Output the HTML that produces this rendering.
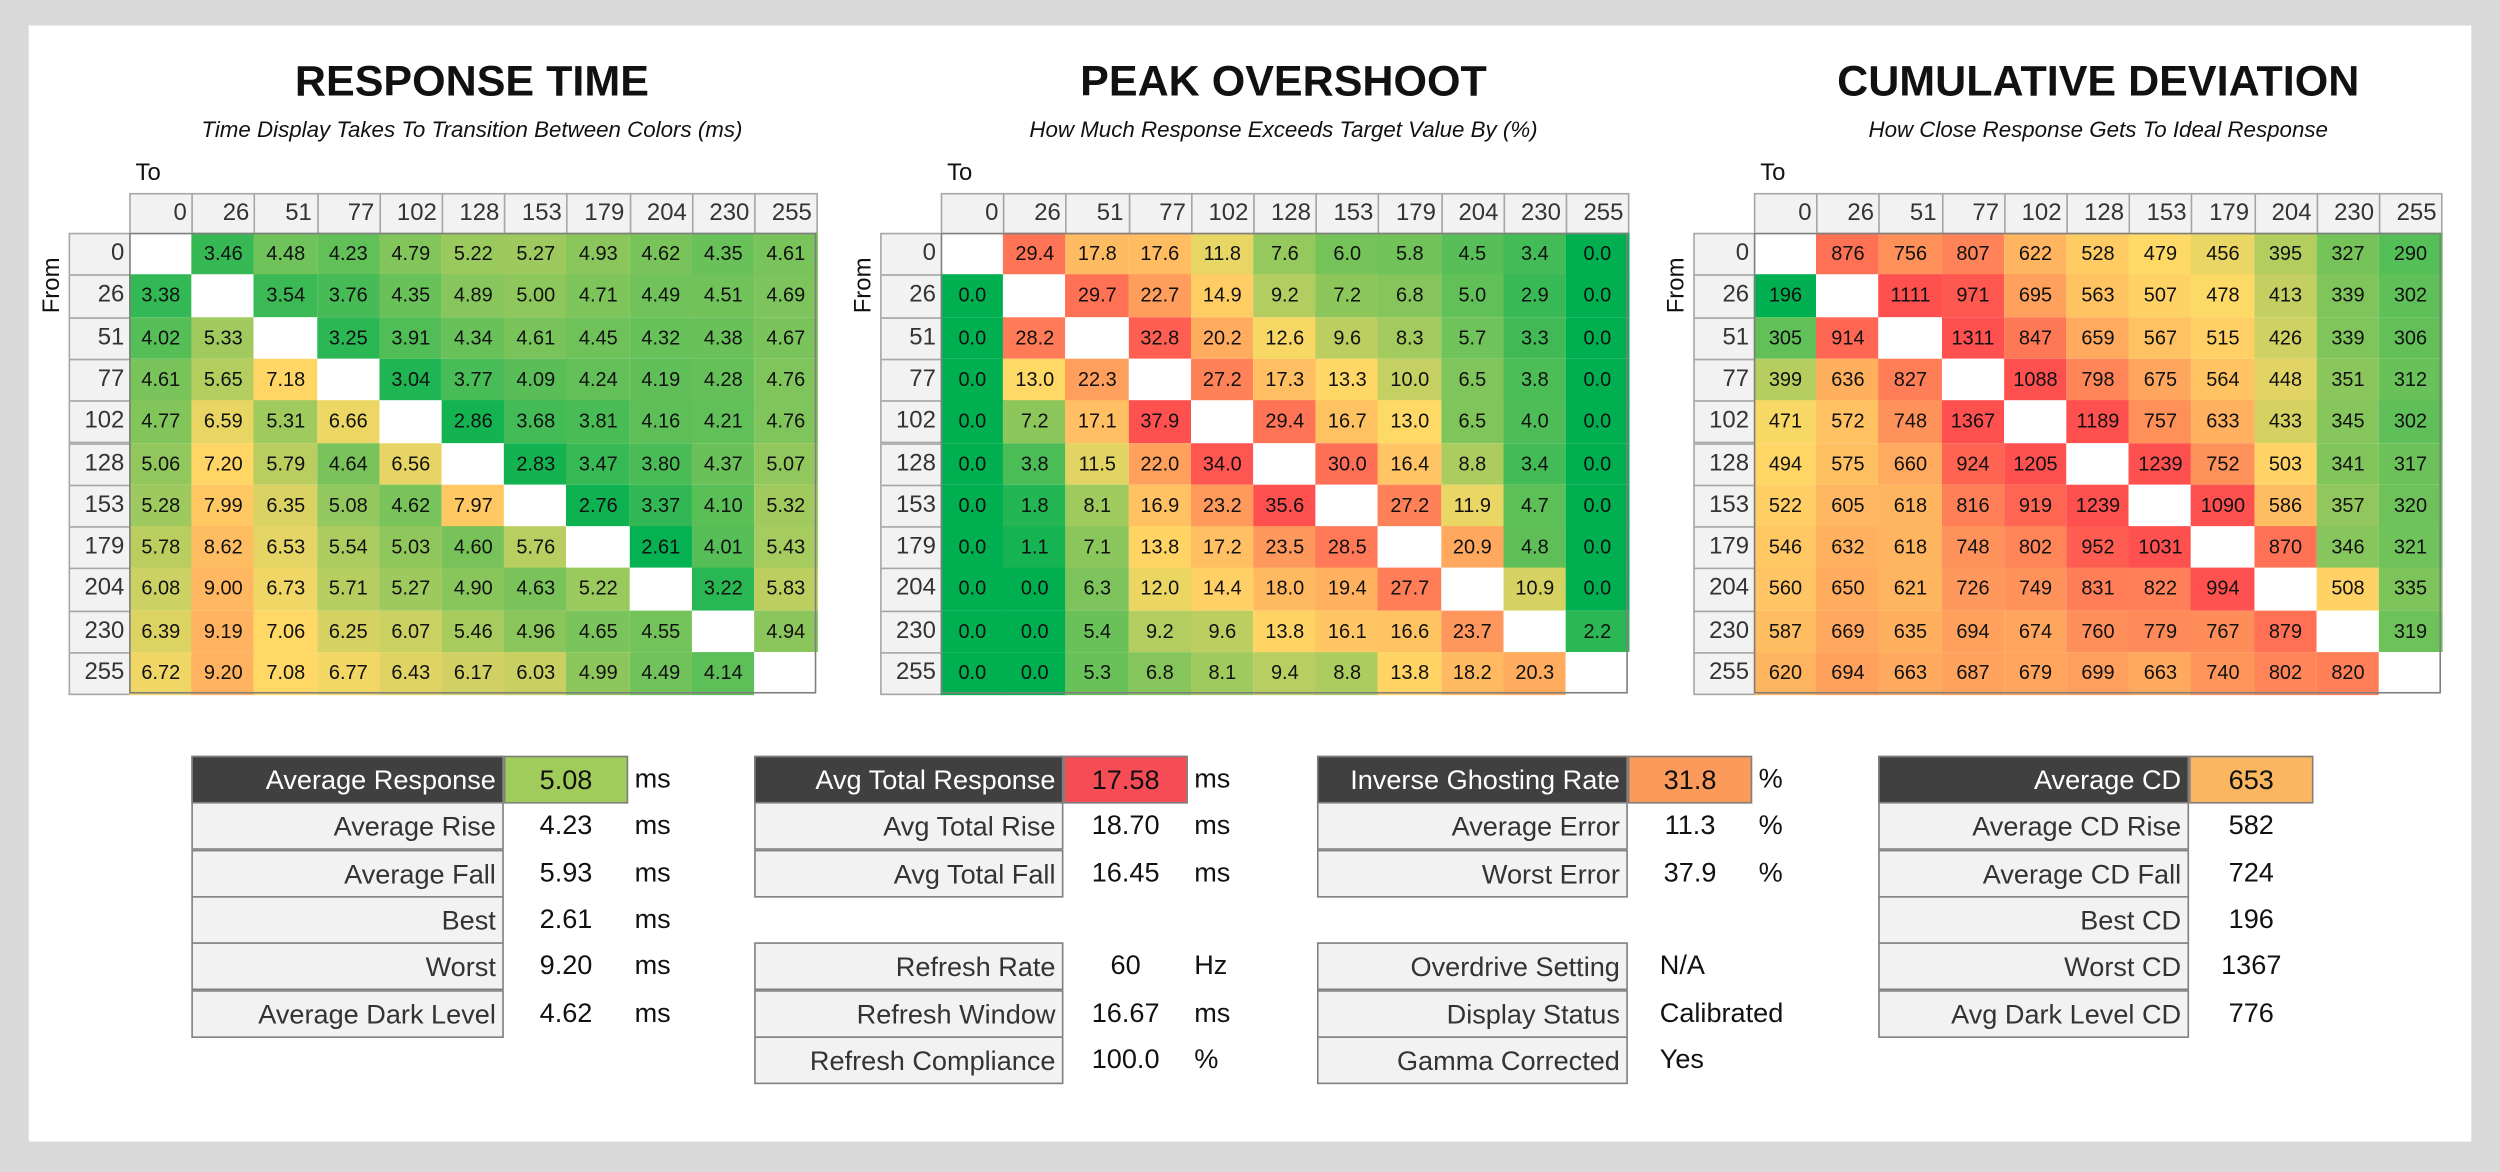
<!DOCTYPE html>
<html><head><meta charset="utf-8">
<style>
html,body{margin:0;padding:0;background:#d9d9d9;width:2500px;height:1172px;overflow:hidden}
#root{position:absolute;left:0;top:0;width:1568px;height:735px;transform:scale(1.59439);transform-origin:0 0;font-family:"Liberation Sans Narrow","Liberation Sans",sans-serif;color:#111}
#panel{position:absolute;left:18px;top:16px;width:1532px;height:700px;background:#fff}
.t{position:absolute;text-align:center;font-weight:bold;font-size:27px;width:500px}
.s{position:absolute;text-align:center;font-style:italic;font-size:14px;width:500px}
.abs{position:absolute;box-sizing:border-box}
.hc{background:#f2f2f2;border:1px solid #a6a6a6;font-size:15px;text-align:right;padding-right:3px;color:#333}
.cell{font-size:12.5px;text-align:center;border:0}
.lab{background:#f2f2f2;border:1px solid #7f7f7f;font-size:17px;text-align:right;padding-right:4px;color:#333;line-height:29px}
.lab.dark{background:#404040;color:#fff}
.val{font-size:17px;text-align:center;line-height:29px}
.unit{font-size:17px;line-height:29px}
</style></head><body>
<div id="root">
<div id="panel"></div>
<div class="t" style="left:46px;top:36px">RESPONSE TIME</div>
<div class="s" style="left:46px;top:73px">Time Display Takes To Transition Between Colors (ms)</div>
<div class="t" style="left:555px;top:36px">PEAK OVERSHOOT</div>
<div class="s" style="left:555px;top:73px">How Much Response Exceeds Target Value By (%)</div>
<div class="t" style="left:1066px;top:36px">CUMULATIVE DEVIATION</div>
<div class="s" style="left:1066px;top:73px">How Close Response Gets To Ideal Response</div>
<div id="mats"></div>
<div id="stats"></div>
</div>
<script>
const levels=[0,26,51,77,102,128,153,179,204,230,255];
const rtValues=[
[null,3.46,4.48,4.23,4.79,5.22,5.27,4.93,4.62,4.35,4.61],
[3.38,null,3.54,3.76,4.35,4.89,5.00,4.71,4.49,4.51,4.69],
[4.02,5.33,null,3.25,3.91,4.34,4.61,4.45,4.32,4.38,4.67],
[4.61,5.65,7.18,null,3.04,3.77,4.09,4.24,4.19,4.28,4.76],
[4.77,6.59,5.31,6.66,null,2.86,3.68,3.81,4.16,4.21,4.76],
[5.06,7.20,5.79,4.64,6.56,null,2.83,3.47,3.80,4.37,5.07],
[5.28,7.99,6.35,5.08,4.62,7.97,null,2.76,3.37,4.10,5.32],
[5.78,8.62,6.53,5.54,5.03,4.60,5.76,null,2.61,4.01,5.43],
[6.08,9.00,6.73,5.71,5.27,4.90,4.63,5.22,null,3.22,5.83],
[6.39,9.19,7.06,6.25,6.07,5.46,4.96,4.65,4.55,null,4.94],
[6.72,9.20,7.08,6.77,6.43,6.17,6.03,4.99,4.49,4.14,null]];
const osValues=[
[null,29.4,17.8,17.6,11.8,7.6,6.0,5.8,4.5,3.4,0.0],
[0.0,null,29.7,22.7,14.9,9.2,7.2,6.8,5.0,2.9,0.0],
[0.0,28.2,null,32.8,20.2,12.6,9.6,8.3,5.7,3.3,0.0],
[0.0,13.0,22.3,null,27.2,17.3,13.3,10.0,6.5,3.8,0.0],
[0.0,7.2,17.1,37.9,null,29.4,16.7,13.0,6.5,4.0,0.0],
[0.0,3.8,11.5,22.0,34.0,null,30.0,16.4,8.8,3.4,0.0],
[0.0,1.8,8.1,16.9,23.2,35.6,null,27.2,11.9,4.7,0.0],
[0.0,1.1,7.1,13.8,17.2,23.5,28.5,null,20.9,4.8,0.0],
[0.0,0.0,6.3,12.0,14.4,18.0,19.4,27.7,null,10.9,0.0],
[0.0,0.0,5.4,9.2,9.6,13.8,16.1,16.6,23.7,null,2.2],
[0.0,0.0,5.3,6.8,8.1,9.4,8.8,13.8,18.2,20.3,null]];
const cdValues=[
[null,876,756,807,622,528,479,456,395,327,290],
[196,null,1111,971,695,563,507,478,413,339,302],
[305,914,null,1311,847,659,567,515,426,339,306],
[399,636,827,null,1088,798,675,564,448,351,312],
[471,572,748,1367,null,1189,757,633,433,345,302],
[494,575,660,924,1205,null,1239,752,503,341,317],
[522,605,618,816,919,1239,null,1090,586,357,320],
[546,632,618,748,802,952,1031,null,870,346,321],
[560,650,621,726,749,831,822,994,null,508,335],
[587,669,635,694,674,760,779,767,879,null,319],
[620,694,663,687,679,699,663,740,802,820,null]];

const G=[0,176,80],Y=[255,217,102],R=[255,80,80];
function mix(a,b,t){return 'rgb('+a.map((v,i)=>Math.round(v+(b[i]-v)*t)).join(',')+')';}
function colorScale(v,lo,mid,hi){
  if(v<=mid){return mix(G,Y,Math.max(0,(v-lo)/(mid-lo)));}
  return mix(Y,R,Math.min(1,(v-mid)/(hi-mid)));
}
const mats=document.getElementById('mats');
function el(cls,x,y,w,h,txt){const d=document.createElement('div');d.className='abs '+cls;d.style.left=x+'px';d.style.top=y+'px';d.style.width=w+'px';d.style.height=h+'px';if(txt!==undefined)d.textContent=txt;mats.appendChild(d);return d;}
function drawMatrix(name,vals,x0,digits,lo,mid,hi){
  const cw=39.2,y0=121,hh=25,rh=26.3,top=y0+hh;
  const to=el('',x0+4,100,30,18,'To');to.style.fontSize='15px';
  
  
  const fr=el('',x0-68,170,40,18,'From');fr.style.fontSize='15px';fr.style.transform='rotate(-90deg)';fr.style.textAlign='center';
  
  
  levels.forEach((lv,j)=>{
    const h=el('hc',x0+j*cw,y0,cw+1,hh+1,String(lv));h.style.lineHeight=(hh-2)+'px';
    
    
  });
  levels.forEach((lv,i)=>{
    const h=el('hc',x0-38,top+i*rh,39,rh+1,String(lv));h.style.lineHeight=(rh-2)+'px';
    
    
    vals[i].forEach((v,j)=>{
      const c=el('cell',x0+j*cw,top+i*rh,cw+0.5,rh+0.5,v===null?'':v.toFixed(digits));
      c.style.lineHeight=rh+'px';
      c.style.background=v===null?'#fff':colorScale(v,lo,mid,hi);
      
      
    });
  });
  const b=el('',x0,top,cw*11,rh*11);b.style.border='1px solid #7f7f7f';b.style.pointerEvents='none';
  
  
}
drawMatrix('response-time',rtValues,81,2,2.5,7,15);
drawMatrix('peak-overshoot',osValues,590,1,0,13,35);
drawMatrix('cumulative-deviation',cdValues,1100,0,196,480,1000);

const statTables=[
 {x:120,lw:196,vw:78,rows:[[0,'Average Response','5.08','ms','#9fcc5a'],[1,'Average Rise','4.23','ms'],[2,'Average Fall','5.93','ms'],[3,'Best','2.61','ms'],[4,'Worst','9.20','ms'],[5,'Average Dark Level','4.62','ms']]},
 {x:473,lw:194,vw:78,rows:[[0,'Avg Total Response','17.58','ms','#f54c55'],[1,'Avg Total Rise','18.70','ms'],[2,'Avg Total Fall','16.45','ms'],[4,'Refresh Rate','60','Hz'],[5,'Refresh Window','16.67','ms'],[6,'Refresh Compliance','100.0','%']]},
 {x:826,lw:195,vw:78,rows:[[0,'Inverse Ghosting Rate','31.8','%','#fb9a5a'],[1,'Average Error','11.3','%'],[2,'Worst Error','37.9','%'],[4,'Overdrive Setting','N/A','',null,1],[5,'Display Status','Calibrated','',null,1],[6,'Gamma Corrected','Yes','',null,1]]},
 {x:1178,lw:195,vw:78,rows:[[0,'Average CD','653','','#fbb660'],[1,'Average CD Rise','582',''],[2,'Average CD Fall','724',''],[3,'Best CD','196',''],[4,'Worst CD','1367',''],[5,'Avg Dark Level CD','776','']]}
];
statTables.forEach((t,ti)=>{
  t.rows.forEach(r=>{
    const y=474+r[0]*29.3;
    const l=el('lab'+(r[4]?' dark':''),t.x,y,t.lw,30,r[1]);
    
    
    const v=el('val',t.x+t.lw,y,t.vw,30,r[2]);
    if(r[4]){v.style.background=r[4];v.style.border='1px solid #7f7f7f';}
    if(r[5]){v.style.textAlign='left';v.style.paddingLeft='20px';v.style.width='160px';}
    
    
    if(r[3]){const u=el('unit',t.x+t.lw+t.vw+4,y,30,30,r[3]);
      
      }
  });
});
</script>
</body></html>
